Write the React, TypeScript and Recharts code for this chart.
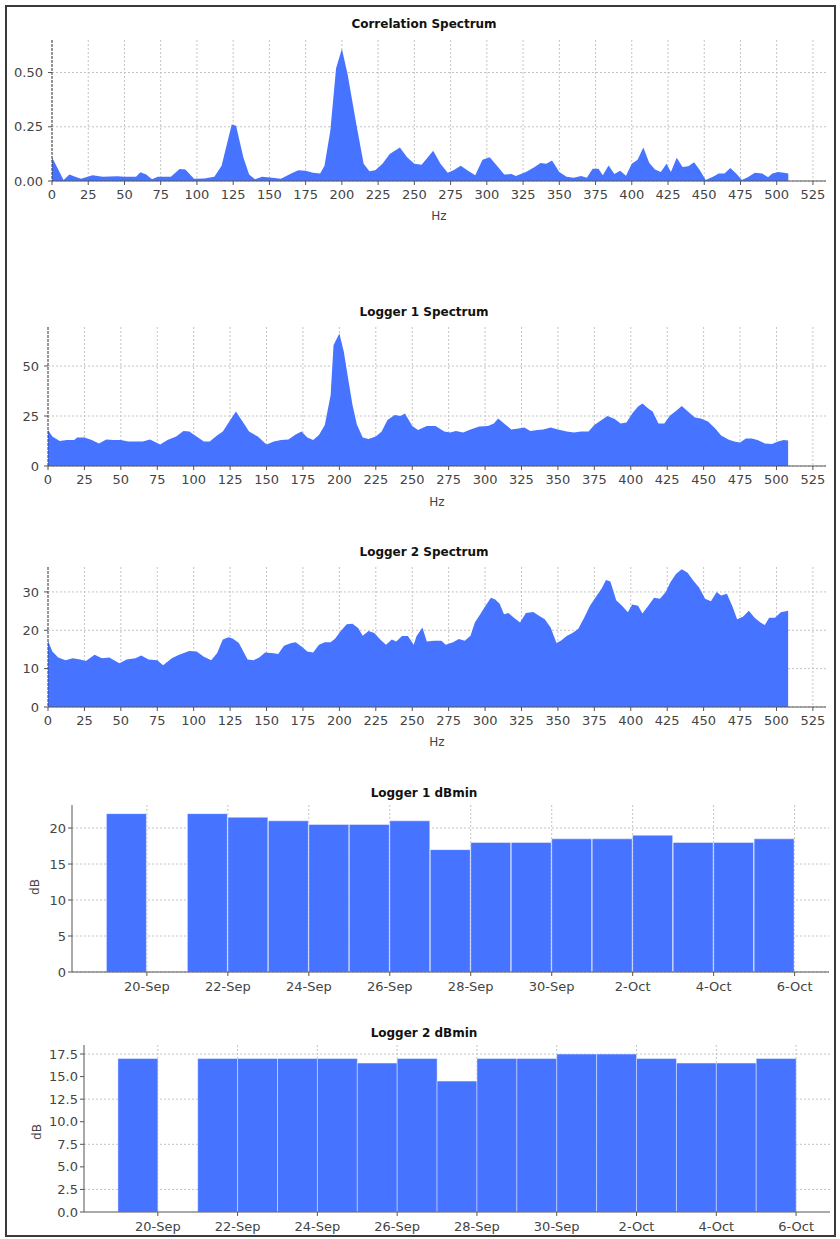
import React from "react";
import { Area, AreaChart, Bar, BarChart, CartesianGrid, XAxis, YAxis } from "recharts";

// Hz values (one bin every few Hz)
const CORR_HZ = [
  0, 3, 8, 12, 16, 20, 28, 35, 45, 50,
  58, 61, 65, 69, 73, 82, 88, 92, 98, 105,
  112, 117, 124, 127, 132, 136, 140, 145, 152, 158,
  165, 170, 175, 180, 185, 188, 192, 196, 200, 204,
  210, 215, 219, 223, 228, 233, 240, 245, 250, 255,
  263, 268, 273, 277, 282, 287, 292, 297, 302, 307,
  312, 317, 320, 327, 333, 337, 341, 345, 350, 355,
  360, 365, 369, 373, 377, 380, 384, 388, 392, 396,
  400, 404, 408, 412, 416, 420, 424, 427, 431, 435,
  439, 443, 447, 451, 456, 460, 464, 468, 472, 476,
  480, 485, 490, 494, 497, 501, 505, 508,
];
const CORR_VALUES = [
  0.11, 0.07, 0.005, 0.03, 0.02, 0.01, 0.027, 0.02, 0.022, 0.02,
  0.02, 0.04, 0.03, 0.008, 0.02, 0.02, 0.055, 0.053, 0.01, 0.012,
  0.02, 0.07, 0.26, 0.255, 0.11, 0.03, 0.008, 0.02, 0.015, 0.01,
  0.035, 0.05, 0.047, 0.038, 0.035, 0.07, 0.23, 0.52, 0.61, 0.49,
  0.26, 0.08, 0.045, 0.05, 0.08, 0.125, 0.155, 0.11, 0.08, 0.075,
  0.14, 0.08, 0.038, 0.05, 0.07, 0.047, 0.027, 0.098, 0.11, 0.07,
  0.03, 0.032, 0.023, 0.042, 0.065, 0.083, 0.08, 0.095, 0.042, 0.02,
  0.015, 0.023, 0.015, 0.057, 0.057, 0.027, 0.072, 0.032, 0.047, 0.024,
  0.08, 0.098, 0.155, 0.084, 0.053, 0.042, 0.08, 0.042, 0.107, 0.065,
  0.068, 0.087, 0.05, 0.005, 0.02, 0.035, 0.035, 0.06, 0.035, 0.005,
  0.017, 0.038, 0.035, 0.017, 0.035, 0.042, 0.038, 0.035,
];

const L1_HZ = [
  0, 3, 8, 13, 18, 20, 25, 30, 35, 40,
  45, 50, 55, 60, 65, 70, 77, 82, 88, 93,
  97, 103, 107, 111, 116, 120, 124, 129, 134, 138,
  144, 150, 155, 160, 165, 170, 174, 178, 182, 186,
  190, 194, 196, 200, 203, 206, 209, 212, 216, 220,
  225, 229, 233, 238, 242, 245, 250, 254, 260, 266,
  272, 276, 280, 285, 290, 296, 302, 306, 309, 313,
  318, 323, 327, 331, 336, 340, 345, 350, 356, 361,
  366, 371, 375, 380, 384, 389, 393, 397, 401, 405,
  408, 412, 415, 419, 423, 427, 431, 435, 440, 444,
  448, 453, 458, 462, 467, 471, 475, 479, 483, 487,
  492, 497, 501, 505, 508,
];
const L1_VALUES = [
  18, 14.7, 12.5, 13, 13, 14.2, 14.2, 13, 11.3, 13.3,
  13, 13, 12.2, 12.2, 12.2, 13.3, 10.8, 13, 14.7, 17.5,
  17.2, 14.2, 12.2, 12.2, 15.2, 17.2, 21.7, 27.2, 21.8, 17.2,
  14.7, 10.8, 12.2, 13, 13.3, 15.8, 17.2, 14.2, 13, 15.5,
  20.5, 35.5, 60.5, 66.3, 57.2, 43.8, 30.5, 20.8, 14.2, 13.5,
  14.7, 17.2, 23, 25.5, 25, 26.3, 20, 18, 20, 20,
  17.2, 16.8, 17.5, 16.8, 18.3, 19.7, 20, 21.3, 23.8, 21.3,
  18.3, 18.8, 19.3, 17.5, 18, 18.3, 19.2, 18.3, 17.2, 16.8,
  17.2, 17.2, 20.5, 23, 25, 23.5, 21.3, 21.7, 26.3, 29.7,
  31.3, 28.8, 27.2, 21.3, 21.3, 25.2, 27.5, 30, 26.8, 24.2,
  23.8, 22.2, 18.8, 15.2, 13.3, 12.2, 11.8, 13.8, 13.8, 13,
  11.3, 11, 12.2, 13, 12.7,
];

const L2_HZ = [
  0, 3, 7, 12, 17, 22, 26, 32, 37, 42,
  49, 54, 60, 64, 69, 75, 79, 85, 90, 97,
  102, 107, 112, 116, 120, 124, 127, 131, 137, 141,
  145, 149, 155, 158, 162, 167, 170, 174, 178, 182,
  186, 190, 194, 197, 201, 205, 209, 213, 216, 220,
  224, 228, 232, 236, 239, 243, 247, 251, 253, 257,
  260, 265, 270, 273, 278, 282, 286, 290, 293, 297,
  300, 304, 307, 310, 313, 316, 320, 324, 328, 333,
  337, 341, 345, 349, 352, 356, 360, 364, 368, 372,
  376, 380, 383, 386, 390, 394, 398, 401, 405, 408,
  412, 416, 420, 424, 427, 431, 435, 439, 443, 447,
  451, 455, 459, 462, 466, 470, 473, 477, 481, 485,
  489, 492, 495, 499, 503, 508,
];
const L2_VALUES = [
  17.3, 14.5, 12.9, 12.2, 12.7, 12.4, 12, 13.6, 12.7, 12.9,
  11.4, 12.4, 12.7, 13.4, 12.4, 12.2, 10.9, 12.7, 13.6, 14.6,
  14.5, 13.1, 12.2, 14, 17.6, 18.2, 17.8, 16.7, 12.4, 12.2,
  12.9, 14.2, 14, 13.8, 16, 16.7, 16.9, 15.8, 14.5, 14.2,
  16.2, 16.9, 16.9, 17.8, 19.8, 21.6, 21.7, 20.5, 18.6, 19.8,
  19.3, 17.6, 16.2, 17.6, 17.1, 18.5, 18.5, 16.2, 18.5, 20.7,
  17.1, 17.3, 17.3, 16.2, 16.9, 17.7, 17.3, 18.6, 22, 24.4,
  26.2, 28.5, 28, 26.9, 24.2, 24.5, 23.2, 22, 24.5, 24.8,
  23.8, 22.9, 20.7, 16.7, 17.3, 18.5, 19.3, 20.4, 23.3, 26.4,
  28.7, 30.9, 33.1, 32.7, 27.8, 26.4, 24.7, 26.7, 26.4, 24.4,
  26.4, 28.5, 28.2, 30, 32.4, 34.7, 35.9, 35, 32.9, 31.1,
  28.2, 27.6, 30, 29.1, 29.5, 26, 22.9, 23.5, 25.1, 23.3,
  22, 21.4, 23.3, 23.3, 24.7, 25.1,
];

const HZ_TICKS = [
  0, 25, 50, 75, 100, 125, 150, 175, 200, 225, 250,
  275, 300, 325, 350, 375, 400, 425, 450, 475, 500, 525,
];

// day boundaries; bar i spans DAY_LABELS[i] .. DAY_LABELS[i + 1]
const DAY_LABELS = [
  "19-Sep", "20-Sep", "21-Sep", "22-Sep", "23-Sep", "24-Sep", "25-Sep", "26-Sep", "27-Sep",
  "28-Sep", "29-Sep", "30-Sep", "1-Oct", "2-Oct", "3-Oct", "4-Oct", "5-Oct", "6-Oct",
];
const DAY_TICKS = [1, 3, 5, 7, 9, 11, 13, 15, 17];
const L1_DBMIN = [22, null, 22, 21.5, 21, 20.5, 20.5, 21, 17, 18, 18, 18.5, 18.5, 19, 18, 18, 18.5];
const L2_DBMIN = [17, null, 17, 17, 17, 17, 16.5, 17, 14.5, 17, 17, 17.5, 17.5, 17, 16.5, 16.5, 17];

const BLUE = "#4673ff";
const AXIS = "#555555";
const GRID = "#c4c4c4";
const TICK = { fontSize: 13, fill: "#444444" };
const X_MIN = -0.85;
const X_MAX = 17.85;

function Title({ y, text }: { y: number; text: string }) {
  return (
    <div
      style={{
        position: "absolute", left: 0, top: y - 8, width: 848, textAlign: "center",
        fontSize: 12, fontWeight: "bold", lineHeight: "16px", color: "#111",
      }}
    >
      {text}
    </div>
  );
}

function AxisText({ x, y, text, rotate }: { x: number; y: number; text: string; rotate?: boolean }) {
  return (
    <div
      style={{
        position: "absolute", left: x - 20, top: y - 8, width: 40, textAlign: "center",
        fontSize: 12, lineHeight: "16px", color: "#444",
        transform: rotate ? "rotate(-90deg)" : undefined,
      }}
    >
      {text}
    </div>
  );
}

interface SpectrumProps {
  top: number;
  height: number;
  hz: number[];
  values: number[];
  yMax: number;
  yTicks: number[];
  yWidth: number;
  plotTop: number;
  plotBottom: number;
  fmt: (v: number) => string;
}

function Spectrum({ top, height, hz, values, yMax, yTicks, yWidth, plotTop, plotBottom, fmt }: SpectrumProps) {
  const rows = hz.map((h, i) => ({ hz: h, v: values[i] }));
  return (
    <div style={{ position: "absolute", left: 0, top }}>
      <AreaChart
        width={840}
        height={height}
        data={rows}
        margin={{ top: plotTop - top, right: 14, left: 0, bottom: 0 }}
      >
        <CartesianGrid stroke={GRID} strokeDasharray="2 2" syncWithTicks />
        <XAxis
          dataKey="hz"
          type="number"
          domain={[0, 534]}
          ticks={HZ_TICKS}
          interval={0}
          allowDataOverflow
          height={top + height - plotBottom}
          tick={TICK}
          tickSize={4}
          tickMargin={5}
          axisLine={{ stroke: AXIS }}
          tickLine={{ stroke: AXIS }}
        />
        <YAxis
          type="number"
          domain={[0, yMax]}
          ticks={yTicks}
          allowDataOverflow
          width={yWidth}
          tick={TICK}
          tickSize={4}
          tickMargin={5}
          tickFormatter={fmt}
          axisLine={{ stroke: "#444", strokeDasharray: "3 1" }}
          tickLine={{ stroke: AXIS }}
        />
        <Area
          type="linear"
          dataKey="v"
          stroke="none"
          fill={BLUE}
          fillOpacity={1}
          isAnimationActive={false}
        />
      </AreaChart>
    </div>
  );
}

interface DbminProps {
  top: number;
  height: number;
  values: (number | null)[];
  yMax: number;
  yTicks: number[];
  yWidth: number;
  right: number;
  plotTop: number;
  plotBottom: number;
  fmt: (v: number) => string;
}

function Dbmin({ top, height, values, yMax, yTicks, yWidth, right, plotTop, plotBottom, fmt }: DbminProps) {
  const rows = DAY_LABELS.slice(0, values.length).map((d, i) => ({ day: d, idx: i, db: values[i] }));
  const plotWidth = 840 - yWidth - right;
  const pad = (plotWidth / (X_MAX - X_MIN)) * (0 - X_MIN);
  return (
    <div style={{ position: "absolute", left: 0, top }}>
      <BarChart
        width={840}
        height={height}
        data={rows}
        barCategoryGap={0}
        barGap={0}
        margin={{ top: plotTop - top, right, left: 0, bottom: 0 }}
      >
        <CartesianGrid xAxisId="t" stroke={GRID} strokeDasharray="2 2" syncWithTicks />
        <XAxis
          xAxisId="t"
          dataKey="idx"
          type="number"
          domain={[X_MIN, X_MAX]}
          ticks={DAY_TICKS}
          interval={0}
          allowDataOverflow
          height={top + height - plotBottom}
          tick={TICK}
          tickSize={4}
          tickMargin={6}
          tickFormatter={(i: number) => DAY_LABELS[i]}
          axisLine={{ stroke: AXIS }}
          tickLine={{ stroke: AXIS }}
        />
        <XAxis
          xAxisId="cat"
          dataKey="day"
          type="category"
          hide
          height={0}
          padding={{ left: pad, right: pad }}
        />
        <YAxis
          type="number"
          domain={[0, yMax]}
          ticks={yTicks}
          allowDataOverflow
          width={yWidth}
          tick={TICK}
          tickSize={4}
          tickMargin={2}
          tickFormatter={fmt}
          axisLine={{ stroke: AXIS }}
          tickLine={{ stroke: AXIS }}
        />
        <Bar
          xAxisId="cat"
          dataKey="db"
          fill={BLUE}
          stroke="rgba(255,255,255,0.45)"
          strokeWidth={1}
          isAnimationActive={false}
        />
      </BarChart>
    </div>
  );
}

export default function App() {
  return (
    <div
      style={{
        position: "absolute", left: 0, top: 0, width: 840, height: 1239,
        background: "#fff", fontFamily: '"DejaVu Sans", sans-serif', overflow: "hidden",
      }}
    >
      <div
        style={{
          position: "absolute", left: 5, top: 5, width: 831, height: 1232,
          boxSizing: "border-box", border: "2px solid #3a3a3a",
        }}
      />

      <Title y={24} text="Correlation Spectrum" />
      <Spectrum
        top={0} height={230} hz={CORR_HZ} values={CORR_VALUES}
        yMax={0.65} yTicks={[0, 0.25, 0.5]} yWidth={52}
        plotTop={40} plotBottom={181} fmt={(v) => v.toFixed(2)}
      />
      <AxisText x={439} y={216} text="Hz" />

      <Title y={312} text="Logger 1 Spectrum" />
      <Spectrum
        top={295} height={215} hz={L1_HZ} values={L1_VALUES}
        yMax={69.5} yTicks={[0, 25, 50]} yWidth={48}
        plotTop={327} plotBottom={466} fmt={(v) => String(v)}
      />
      <AxisText x={437} y={502} text="Hz" />

      <Title y={552} text="Logger 2 Spectrum" />
      <Spectrum
        top={535} height={225} hz={L2_HZ} values={L2_VALUES}
        yMax={36.5} yTicks={[0, 10, 20, 30]} yWidth={48}
        plotTop={567} plotBottom={707} fmt={(v) => String(v)}
      />
      <AxisText x={437} y={742} text="Hz" />

      <Title y={793} text="Logger 1 dBmin" />
      <Dbmin
        top={780} height={220} values={L1_DBMIN}
        yMax={23.2} yTicks={[0, 5, 10, 15, 20]} yWidth={72} right={11}
        plotTop={805} plotBottom={972} fmt={(v) => String(v)}
      />
      <AxisText x={35} y={887} text="dB" rotate />

      <Title y={1033} text="Logger 2 dBmin" />
      <Dbmin
        top={1020} height={219} values={L2_DBMIN}
        yMax={18.5} yTicks={[0, 2.5, 5, 7.5, 10, 12.5, 15, 17.5]} yWidth={84} right={10}
        plotTop={1045} plotBottom={1212} fmt={(v) => v.toFixed(1)}
      />
      <AxisText x={37} y={1132} text="dB" rotate />
    </div>
  );
}
